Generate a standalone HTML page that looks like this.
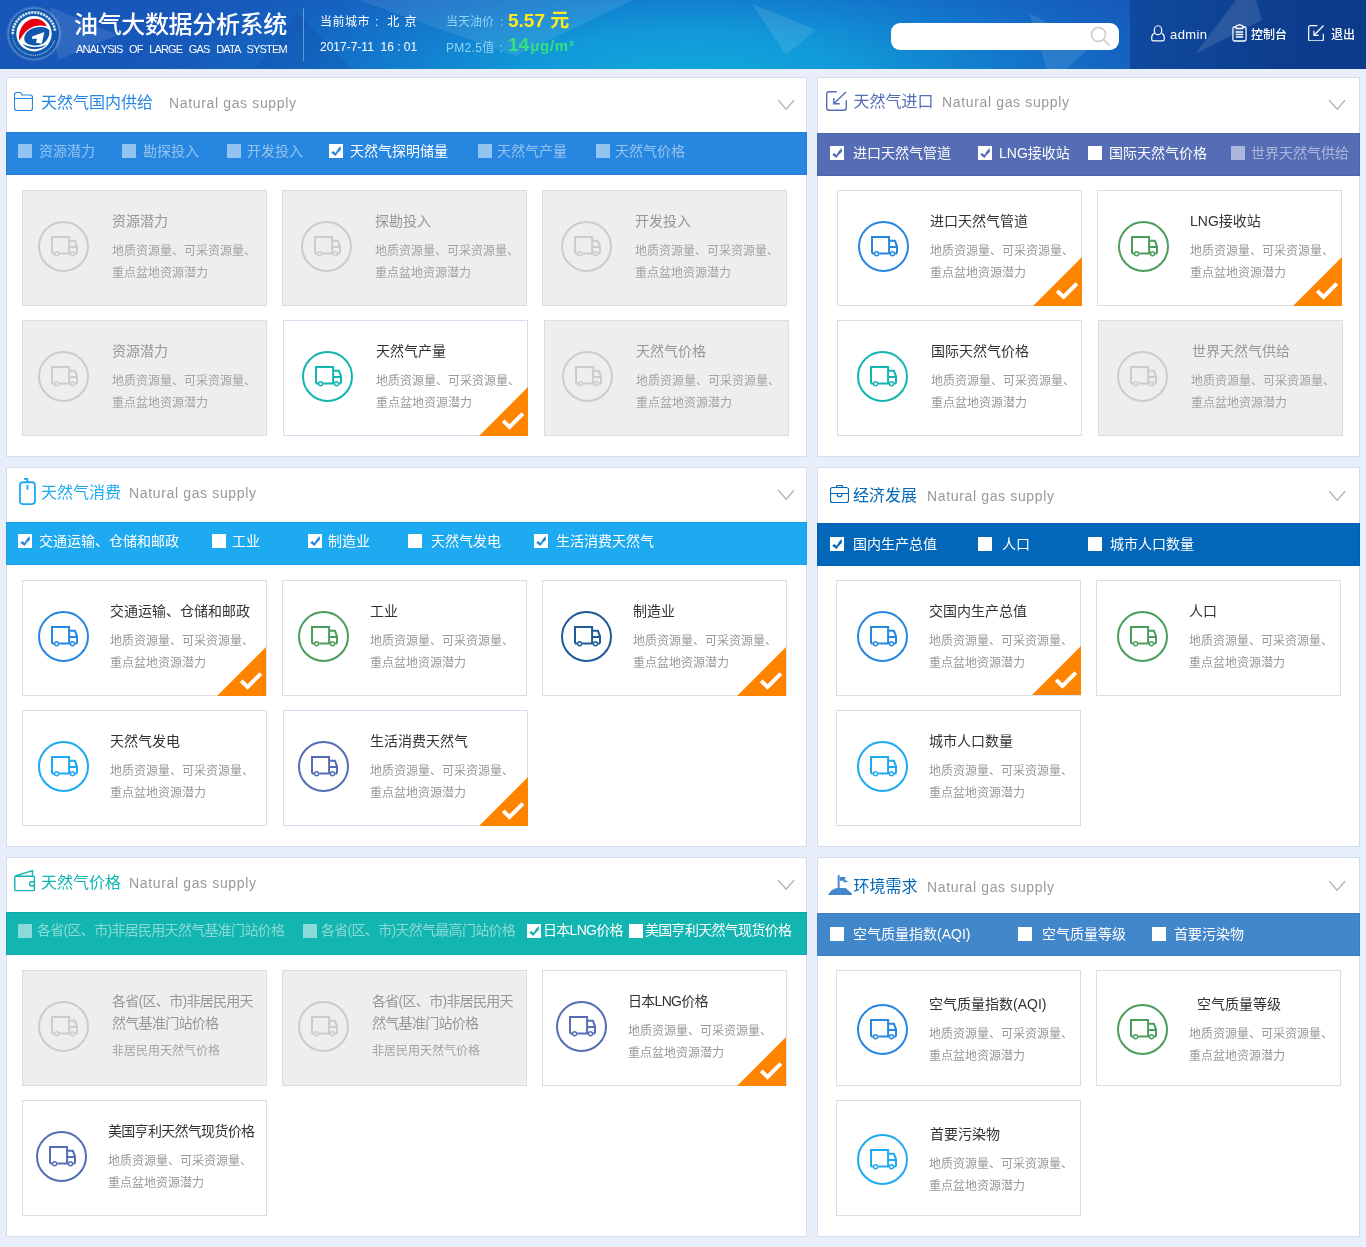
<!DOCTYPE html>
<html lang="zh-CN"><head><meta charset="utf-8"><title>油气大数据分析系统</title><style>
*{margin:0;padding:0;box-sizing:content-box}
html,body{width:1366px;height:1247px;overflow:hidden}
body{position:relative;background:#e8effa;font-family:"Liberation Sans","Noto Sans CJK SC",sans-serif;font-size:12px;color:#333}
body div,body span,body i,body svg{position:absolute}
body span.in{position:static}
.hd{left:0;top:0;width:1366px;height:69px;overflow:hidden;background:radial-gradient(ellipse 560px 150px at 690px 75px,#12a8de 0%,#1198d8 30%,#1280cf 50%,#1468c4 72%,#165cbc 88%,#1757b9 100%)}
.hd .dk{left:1130px;top:0;width:236px;height:69px;background:linear-gradient(90deg,#0f4a9e,#0d3e8e 60%,#0c3a8a)}
.hd svg.deco{left:0;top:0}
.logo{left:0;top:0}
.h1{left:74px;top:9px;font-size:24px;line-height:32px;color:#fff;white-space:nowrap;letter-spacing:-.35px;font-weight:500}
.h2{left:76px;top:41px;font-size:11px;line-height:16px;color:#fff;white-space:nowrap;word-spacing:4.3px;letter-spacing:-.82px}
.vl{left:303px;top:8px;width:1px;height:53px;background:rgba(255,255,255,.35)}
.t12{font-size:12px;line-height:20px;color:#fff;white-space:nowrap}
.lt{color:#8fd3f8}
.yl{color:#ffe81e;font-weight:bold;font-size:19px;line-height:24px;white-space:nowrap}
.gn{color:#35e07f;font-weight:bold;font-size:19px;line-height:24px;white-space:nowrap}
.gn small{font-size:15px;letter-spacing:.7px;margin-left:1px}
.sb{left:891px;top:23px;width:228px;height:27px;border-radius:9px;background:#fff}
.nav{font-size:12px;line-height:20px;color:#fff;white-space:nowrap;font-weight:500}
.panel{background:#fff;border:1px solid #d5dcef}
.bar{height:43px;box-shadow:inset 0 0 0 1px rgba(0,40,160,.1)}
.pt{font-size:16px;line-height:24px;white-space:nowrap}
.pe{font-size:14px;line-height:24px;color:#999;white-space:nowrap;letter-spacing:.65px}
.cb{width:14px;height:14px;background:#fff;font-style:normal}
.cb.dis{background:rgba(255,255,255,.5)}
.cb svg{left:0;top:0}
.lb{font-size:14px;line-height:30px;color:#fff;white-space:nowrap}
.lb.dis{color:rgba(255,255,255,.5)}
.card{width:243px;height:114px;border:1px solid #ddd;background:#fff}
.card.dis{background:#eee}
.ci{width:47px;height:47px;border:2px solid #ccc;border-radius:50%}
.ci svg.tk{left:11px;top:13px}
.ct{font-size:14px;line-height:22px;color:#333;white-space:nowrap}
.cd{font-size:12px;line-height:22px;color:#999;white-space:nowrap}
.dis .ct{color:#979797}
.dis .cd{color:#a3a3a3}
.tri{right:-1px;bottom:-1px}
.tri.tl{right:0}
.tri.tu{bottom:0}
.bl{background:#dbe4f5}
.bl.v{right:-1px;bottom:-1px;width:1px;height:49px}
.bl.h{right:-1px;bottom:-1px;height:1px;width:49px}
.lb.tight,.tight .ct{letter-spacing:-.7px}
</style></head><body>
<div class="hd">
<svg class="deco" width="1366" height="69" viewBox="0 0 1366 69">
<polygon points="358,0 633,0 516,56" fill="#ffffff" opacity=".09"/>
<polygon points="255,69 297,12 352,69" fill="#0a3a90" opacity=".16"/>
<polygon points="752,4 816,30 786,55" fill="#ffffff" opacity=".1"/>
<polygon points="50,7 118,35 58,60" fill="#ffffff" opacity=".1"/>
</svg>
<div class="dk"></div>
<svg class="deco" width="1366" height="69" viewBox="0 0 1366 69">
<polygon points="1236,0 1256,0 1262,20 1195,54" fill="#ffffff" opacity=".12"/>
<polygon points="1029,13 1091,47 1066,69 1047,69" fill="#ffffff" opacity=".1"/>
</svg>
<svg class="logo" width="70" height="69" viewBox="0 0 70 69">
<defs><radialGradient id="lg" cx="34" cy="33.700" r="28" gradientUnits="userSpaceOnUse"><stop offset="0.860" stop-color="#ffffff" stop-opacity=".4"/><stop offset="1" stop-color="#ffffff" stop-opacity="0"/></radialGradient></defs>
<circle cx="34" cy="33.700" r="28" fill="url(#lg)"/>
<circle cx="34" cy="33.700" r="25" fill="#0f57ae"/>
<circle cx="34" cy="33.700" r="21.300" fill="none" stroke="#ffffff" stroke-opacity=".82" stroke-width="2.700" stroke-dasharray="2.300 0.800" stroke-dashoffset="2" pathLength="134" transform="rotate(176 34 33.700)" style="stroke-dasharray:2.300 0.800 2.300 0.800 2.300 0.800 2.300 0.800 2.300 0.800 2.300 0.800 2.300 0.800 2.300 0.800 2.300 0.800 2.300 0.800 2.300 0.800 2.300 0.800 2.300 0.800 2.300 0.800 2.300 0.800 2.300 0.800 2.300 0.800 2.300 0.800 2.300 0.800 2.300 0.800 2.300 0.800 2.300 200"/>
<circle cx="34" cy="33.700" r="21.600" fill="none" stroke="#ffffff" stroke-opacity=".5" stroke-width="1.300" stroke-dasharray="1.200 0.700" pathLength="134" transform="rotate(18 34 33.700)" style="stroke-dasharray:1.200 0.700 1.200 0.700 1.200 0.700 1.200 0.700 1.200 0.700 1.200 0.700 1.200 0.700 1.200 0.700 1.200 0.700 1.200 0.700 1.200 0.700 1.200 0.700 1.200 0.700 1.200 0.700 1.200 0.700 1.200 0.700 1.200 0.700 1.200 0.700 1.200 0.700 1.200 0.700 1.200 0.700 1.200 0.700 1.200 0.700 1.200 0.700 1.200 0.700 1.200 0.700 1.200 0.700 1.200 0.700 1.200 0.700 1.200 200"/>
<circle cx="34" cy="33.700" r="17.700" fill="#ffffff"/>
<path d="M19.500 40.600C17.400 31 24 19 35 18.800C40 18.800 44.600 21.500 46.900 26.200C40 24.600 33 25.600 27.500 30C23.600 33.400 21.500 37 19.500 40.600Z" fill="#e60012"/>
<path d="M24.200 38.500C24.500 32 31 27.200 40 27C45 27 49 28.500 49.400 31C50 36 46 45.500 36 45.500C29 45.500 24 43 24.200 38.500Z" fill="#0f57ae"/>
<path d="M32 36.500L44.300 32L41.800 43.800L35.900 42.700L37 38.700H32Z" fill="#ffffff"/>
<path d="M22.300 43.500C27 47.600 40 48.300 46.500 44.500C41 50.800 27 51 22.300 43.500Z" fill="#0f57ae"/>
</svg>
<div class="h1">油气大数据分析系统</div>
<div class="h2">ANALYSIS OF LARGE GAS DATA SYSTEM</div>
<div class="vl"></div>
<div class="t12" style="left:320px;top:12px;letter-spacing:.5px">当前城市<span class="in" style="margin-left:5px;margin-right:8.500px">:</span>北<span class="in" style="margin-left:4.500px">京</span></div>
<div class="t12" style="left:320px;top:37px">2017-7-11&nbsp; 16 : 01</div>
<div class="t12 lt" style="left:446px;top:12px">当天油价<span class="in" style="margin-left:6px">:</span></div>
<div class="yl" style="left:508px;top:8.500px">5.57 元</div>
<div class="t12 lt" style="left:446px;top:38px;letter-spacing:.3px">PM2.5值<span class="in" style="margin-left:5px">:</span></div>
<div class="gn" style="left:508px;top:33px">14<small>μg/m³</small></div>
<div class="sb"></div>
<svg style="left:1088.500px;top:24.500px" width="24" height="24" viewBox="0 0 24 24" fill="none" stroke="#c8c8c8" stroke-width="1.500"><circle cx="9.500" cy="9.500" r="7"/><path d="M14.500 14.500l6 6"/></svg>
<svg style="left:1150.500px;top:25px" width="14" height="17" viewBox="0 0 15 18" fill="none" stroke="#fff" stroke-width="1.300"><ellipse cx="7.500" cy="5.500" rx="4" ry="4.800"/><path d="M3.800 8.500q-3 1.500-3 4.500v2.500q0 1.500 1.500 1.500h10.400q1.500 0 1.500-1.500V13q0-3-3-4.500"/></svg>
<div class="nav" style="left:1170px;top:24.500px;font-size:13px;letter-spacing:.4px">admin</div>
<svg style="left:1231.500px;top:24px" width="15" height="18" viewBox="0 0 16 18" preserveAspectRatio="none" fill="none" stroke="#fff" stroke-width="1.300"><path d="M4.500 3H2.500q-1.500 0-1.500 1.500v11q0 1.500 1.500 1.500h11q1.500 0 1.500-1.500v-11q0-1.500-1.500-1.500h-2M4.500 4.500V2l3.500-1.300L11.500 2v2.500zM4 8h8M4 10.500h8M4 13h8"/></svg>
<div class="nav" style="left:1251px;top:24.500px">控制台</div>
<svg style="left:1308px;top:24.500px" width="16" height="16.500" viewBox="0 0 17 17" preserveAspectRatio="none" fill="none" stroke="#fff" stroke-width="1.300"><path d="M10 0.700H2.700q-2 0-2 2v11.600q0 2 2 2h11.600q2 0 2-2V9M16.500 0.500L6.500 10.500M6.300 6v4.700h5"/></svg>
<div class="nav" style="left:1331px;top:24.500px">退出</div>
</div>
<div class="panel" style="left:6px;top:77px;width:799px;height:378px"></div><div class="ico" style="left:14px;top:92px"><svg width="19" height="19" viewBox="0 0 19 19" fill="none" stroke="#2787e0" stroke-width="1.150"><path d="M0.500 3Q0.500 0.500 3 0.500H6Q7 0.500 7.300 1.500L7.800 3H16Q18.500 3 18.500 5.500V16Q18.500 18.500 16 18.500H3Q0.500 18.500 0.500 16ZM0.500 6.500H18.500"/></svg></div><div class="pt" style="left:41px;top:90.5px;color:#2787e0">天然气国内供给</div><div class="pe" style="left:169px;top:90.5px">Natural gas supply</div><svg class="chev" style="left:776.7px;top:98.9px" width="19" height="12" viewBox="0 0 19 12"><path d="M1.500 1.500l7.650 8.700L16.800 1.500" fill="none" stroke="#b4b4b4" stroke-width="1.300" stroke-linecap="round"/></svg><div class="bar" style="left:6px;top:132px;width:801px;background:#2787e0"></div>
<i class="cb dis" style="left:18px;top:144px"></i><span class="lb dis" style="left:39px;top:136px">资源潜力</span>
<i class="cb dis" style="left:122px;top:144px"></i><span class="lb dis" style="left:143px;top:136px">勘探投入</span>
<i class="cb dis" style="left:227px;top:144px"></i><span class="lb dis" style="left:247px;top:136px">开发投入</span>
<i class="cb on" style="left:329px;top:144px"><svg width="14" height="14" viewBox="0 0 14 14"><path d="M2.200 8.700L4.300 7L6.500 8.900Q8.500 5 11.500 2L12 5.800Q9 8.200 6.500 12Z" fill="#2787e0"/></svg></i><span class="lb" style="left:350px;top:136px">天然气探明储量</span>
<i class="cb dis" style="left:478px;top:144px"></i><span class="lb dis" style="left:497px;top:136px">天然气产量</span>
<i class="cb dis" style="left:596px;top:144px"></i><span class="lb dis" style="left:615px;top:136px">天然气价格</span>
<div class="card dis" style="left:22px;top:190px;"><div class="ci" style="left:15px;top:30px;border-color:#cccccc"><svg class="tk" width="27" height="21" viewBox="0 0 27 21" fill="none" stroke="#cccccc" stroke-width="2"><path d="M1 17.600V1h17.100v16.600M18.100 4.800h5.800l2.100 5.500v7.300M18.100 11.100h7.900M1 17.600h2M8.200 17.600h10.700M24.100 17.600h1.900"/><circle cx="5.600" cy="17.800" r="2" fill="#eeeeee" stroke-width="1.400"/><circle cx="21.500" cy="17.800" r="2" fill="#eeeeee" stroke-width="1.400"/></svg></div><div class="ct" style="left:89px;top:19px">资源潜力</div><div class="cd" style="left:89px;top:49px">地质资源量、可采资源量、<br>重点盆地资源潜力</div></div>
<div class="card dis" style="left:282px;top:190px;"><div class="ci" style="left:18px;top:30px;border-color:#cccccc"><svg class="tk" width="27" height="21" viewBox="0 0 27 21" fill="none" stroke="#cccccc" stroke-width="2"><path d="M1 17.600V1h17.100v16.600M18.100 4.800h5.800l2.100 5.500v7.300M18.100 11.100h7.900M1 17.600h2M8.200 17.600h10.700M24.100 17.600h1.900"/><circle cx="5.600" cy="17.800" r="2" fill="#eeeeee" stroke-width="1.400"/><circle cx="21.500" cy="17.800" r="2" fill="#eeeeee" stroke-width="1.400"/></svg></div><div class="ct" style="left:92px;top:19px">探勘投入</div><div class="cd" style="left:92px;top:49px">地质资源量、可采资源量、<br>重点盆地资源潜力</div></div>
<div class="card dis" style="left:542px;top:190px;"><div class="ci" style="left:18px;top:30px;border-color:#cccccc"><svg class="tk" width="27" height="21" viewBox="0 0 27 21" fill="none" stroke="#cccccc" stroke-width="2"><path d="M1 17.600V1h17.100v16.600M18.100 4.800h5.800l2.100 5.500v7.300M18.100 11.100h7.900M1 17.600h2M8.200 17.600h10.700M24.100 17.600h1.900"/><circle cx="5.600" cy="17.800" r="2" fill="#eeeeee" stroke-width="1.400"/><circle cx="21.500" cy="17.800" r="2" fill="#eeeeee" stroke-width="1.400"/></svg></div><div class="ct" style="left:92px;top:19px">开发投入</div><div class="cd" style="left:92px;top:49px">地质资源量、可采资源量、<br>重点盆地资源潜力</div></div>
<div class="card dis" style="left:22px;top:320px;"><div class="ci" style="left:15px;top:30px;border-color:#cccccc"><svg class="tk" width="27" height="21" viewBox="0 0 27 21" fill="none" stroke="#cccccc" stroke-width="2"><path d="M1 17.600V1h17.100v16.600M18.100 4.800h5.800l2.100 5.500v7.300M18.100 11.100h7.900M1 17.600h2M8.200 17.600h10.700M24.100 17.600h1.900"/><circle cx="5.600" cy="17.800" r="2" fill="#eeeeee" stroke-width="1.400"/><circle cx="21.500" cy="17.800" r="2" fill="#eeeeee" stroke-width="1.400"/></svg></div><div class="ct" style="left:89px;top:19px">资源潜力</div><div class="cd" style="left:89px;top:49px">地质资源量、可采资源量、<br>重点盆地资源潜力</div></div>
<div class="card" style="left:283px;top:320px;border-color:#d5dcef;"><div class="ci" style="left:18px;top:30px;border-color:#13b5b1"><svg class="tk" width="27" height="21" viewBox="0 0 27 21" fill="none" stroke="#13b5b1" stroke-width="2"><path d="M1 17.600V1h17.100v16.600M18.100 4.800h5.800l2.100 5.500v7.300M18.100 11.100h7.900M1 17.600h2M8.200 17.600h10.700M24.100 17.600h1.900"/><circle cx="5.600" cy="17.800" r="2" fill="#ffffff" stroke-width="1.400"/><circle cx="21.500" cy="17.800" r="2" fill="#ffffff" stroke-width="1.400"/></svg></div><div class="ct" style="left:92px;top:19px">天然气产量</div><div class="cd" style="left:92px;top:49px">地质资源量、可采资源量、<br>重点盆地资源潜力</div><svg class="tri" width="49" height="49" viewBox="0 0 49 49"><path d="M49 0V49H0Z" fill="#ff8400"/><path d="M24.200 33.800l6.300 6.100L43.900 26.600" fill="none" stroke="#fff" stroke-width="3.900"/></svg></div>
<div class="card dis" style="left:544px;top:320px;"><div class="ci" style="left:17px;top:30px;border-color:#cccccc"><svg class="tk" width="27" height="21" viewBox="0 0 27 21" fill="none" stroke="#cccccc" stroke-width="2"><path d="M1 17.600V1h17.100v16.600M18.100 4.800h5.800l2.100 5.500v7.300M18.100 11.100h7.900M1 17.600h2M8.200 17.600h10.700M24.100 17.600h1.900"/><circle cx="5.600" cy="17.800" r="2" fill="#eeeeee" stroke-width="1.400"/><circle cx="21.500" cy="17.800" r="2" fill="#eeeeee" stroke-width="1.400"/></svg></div><div class="ct" style="left:91px;top:19px">天然气价格</div><div class="cd" style="left:91px;top:49px">地质资源量、可采资源量、<br>重点盆地资源潜力</div></div>
<div class="panel" style="left:6px;top:467px;width:799px;height:378px"></div><div class="ico" style="left:19px;top:478.4px"><svg width="17" height="28" viewBox="0 0 17 28" fill="none" stroke="#1eaaf1" stroke-width="1.800"><path d="M0.950 23.100V7.200q0-2.950 2.950-2.950h9.100q2.950 0 2.950 2.950v15.900q0 2.950-2.950 2.950H3.900q-2.950 0-2.950-2.950zM8.400 4.250V0.850H5M8.400 6.800v5"/></svg></div><div class="pt" style="left:41px;top:480.5px;color:#1eaaf1">天然气消费</div><div class="pe" style="left:129px;top:480.5px">Natural gas supply</div><svg class="chev" style="left:776.7px;top:488.9px" width="19" height="12" viewBox="0 0 19 12"><path d="M1.500 1.500l7.650 8.700L16.800 1.500" fill="none" stroke="#b4b4b4" stroke-width="1.300" stroke-linecap="round"/></svg><div class="bar" style="left:6px;top:522px;width:801px;background:#1eaaf1"></div>
<i class="cb on" style="left:18px;top:534px"><svg width="14" height="14" viewBox="0 0 14 14"><path d="M2.200 8.700L4.300 7L6.500 8.900Q8.500 5 11.500 2L12 5.800Q9 8.200 6.500 12Z" fill="#2787e0"/></svg></i><span class="lb" style="left:39px;top:526px">交通运输、仓储和邮政</span>
<i class="cb" style="left:212px;top:534px"></i><span class="lb" style="left:232px;top:526px">工业</span>
<i class="cb on" style="left:308px;top:534px"><svg width="14" height="14" viewBox="0 0 14 14"><path d="M2.200 8.700L4.300 7L6.500 8.900Q8.500 5 11.500 2L12 5.800Q9 8.200 6.500 12Z" fill="#2787e0"/></svg></i><span class="lb" style="left:328px;top:526px">制造业</span>
<i class="cb" style="left:408px;top:534px"></i><span class="lb" style="left:431px;top:526px">天然气发电</span>
<i class="cb on" style="left:534px;top:534px"><svg width="14" height="14" viewBox="0 0 14 14"><path d="M2.200 8.700L4.300 7L6.500 8.900Q8.500 5 11.500 2L12 5.800Q9 8.200 6.500 12Z" fill="#2787e0"/></svg></i><span class="lb" style="left:556px;top:526px">生活消费天然气</span>
<div class="card" style="left:22px;top:580px;"><div class="ci" style="left:15px;top:30px;border-color:#2787e0"><svg class="tk" width="27" height="21" viewBox="0 0 27 21" fill="none" stroke="#2787e0" stroke-width="2"><path d="M1 17.600V1h17.100v16.600M18.100 4.800h5.800l2.100 5.500v7.300M18.100 11.100h7.900M1 17.600h2M8.200 17.600h10.700M24.100 17.600h1.900"/><circle cx="5.600" cy="17.800" r="2" fill="#ffffff" stroke-width="1.400"/><circle cx="21.500" cy="17.800" r="2" fill="#ffffff" stroke-width="1.400"/></svg></div><div class="ct" style="left:87px;top:19px">交通运输、仓储和邮政</div><div class="cd" style="left:87px;top:49px">地质资源量、可采资源量、<br>重点盆地资源潜力</div><i class="bl v"></i><svg class="tri tl" width="49" height="49" viewBox="0 0 49 49"><path d="M49 0V49H0Z" fill="#ff8400"/><path d="M24.200 33.800l6.300 6.100L43.900 26.600" fill="none" stroke="#fff" stroke-width="3.900"/></svg></div>
<div class="card" style="left:282px;top:580px;"><div class="ci" style="left:15px;top:30px;border-color:#4a9d5b"><svg class="tk" width="27" height="21" viewBox="0 0 27 21" fill="none" stroke="#4a9d5b" stroke-width="2"><path d="M1 17.600V1h17.100v16.600M18.100 4.800h5.800l2.100 5.500v7.300M18.100 11.100h7.900M1 17.600h2M8.200 17.600h10.700M24.100 17.600h1.900"/><circle cx="5.600" cy="17.800" r="2" fill="#ffffff" stroke-width="1.400"/><circle cx="21.500" cy="17.800" r="2" fill="#ffffff" stroke-width="1.400"/></svg></div><div class="ct" style="left:87px;top:19px">工业</div><div class="cd" style="left:87px;top:49px">地质资源量、可采资源量、<br>重点盆地资源潜力</div></div>
<div class="card" style="left:542px;top:580px;"><div class="ci" style="left:18px;top:30px;border-color:#1d5a96"><svg class="tk" width="27" height="21" viewBox="0 0 27 21" fill="none" stroke="#1d5a96" stroke-width="2"><path d="M1 17.600V1h17.100v16.600M18.100 4.800h5.800l2.100 5.500v7.300M18.100 11.100h7.900M1 17.600h2M8.200 17.600h10.700M24.100 17.600h1.900"/><circle cx="5.600" cy="17.800" r="2" fill="#ffffff" stroke-width="1.400"/><circle cx="21.500" cy="17.800" r="2" fill="#ffffff" stroke-width="1.400"/></svg></div><div class="ct" style="left:90px;top:19px">制造业</div><div class="cd" style="left:90px;top:49px">地质资源量、可采资源量、<br>重点盆地资源潜力</div><i class="bl v"></i><svg class="tri tl" width="49" height="49" viewBox="0 0 49 49"><path d="M49 0V49H0Z" fill="#ff8400"/><path d="M24.200 33.800l6.300 6.100L43.900 26.600" fill="none" stroke="#fff" stroke-width="3.900"/></svg></div>
<div class="card" style="left:22px;top:710px;"><div class="ci" style="left:15px;top:30px;border-color:#1eaaf1"><svg class="tk" width="27" height="21" viewBox="0 0 27 21" fill="none" stroke="#1eaaf1" stroke-width="2"><path d="M1 17.600V1h17.100v16.600M18.100 4.800h5.800l2.100 5.500v7.300M18.100 11.100h7.900M1 17.600h2M8.200 17.600h10.700M24.100 17.600h1.900"/><circle cx="5.600" cy="17.800" r="2" fill="#ffffff" stroke-width="1.400"/><circle cx="21.500" cy="17.800" r="2" fill="#ffffff" stroke-width="1.400"/></svg></div><div class="ct" style="left:87px;top:19px">天然气发电</div><div class="cd" style="left:87px;top:49px">地质资源量、可采资源量、<br>重点盆地资源潜力</div></div>
<div class="card" style="left:283px;top:710px;border-color:#d5dcef;"><div class="ci" style="left:14px;top:30px;border-color:#556db4"><svg class="tk" width="27" height="21" viewBox="0 0 27 21" fill="none" stroke="#556db4" stroke-width="2"><path d="M1 17.600V1h17.100v16.600M18.100 4.800h5.800l2.100 5.500v7.300M18.100 11.100h7.900M1 17.600h2M8.200 17.600h10.700M24.100 17.600h1.900"/><circle cx="5.600" cy="17.800" r="2" fill="#ffffff" stroke-width="1.400"/><circle cx="21.500" cy="17.800" r="2" fill="#ffffff" stroke-width="1.400"/></svg></div><div class="ct" style="left:86px;top:19px">生活消费天然气</div><div class="cd" style="left:86px;top:49px">地质资源量、可采资源量、<br>重点盆地资源潜力</div><svg class="tri" width="49" height="49" viewBox="0 0 49 49"><path d="M49 0V49H0Z" fill="#ff8400"/><path d="M24.200 33.800l6.300 6.100L43.900 26.600" fill="none" stroke="#fff" stroke-width="3.900"/></svg></div>
<div class="panel" style="left:6px;top:857px;width:799px;height:378px"></div><div class="ico" style="left:14px;top:870px"><svg width="22" height="22" viewBox="0 0 22 22" fill="none" stroke="#13b5b1" stroke-width="1.400"><path d="M0.800 19.800V7q0-0.800 0.800-0.800h18q0.800 0 0.800 0.800v12.800q0 0.800-0.800 0.800h-18q-0.800 0-0.800-0.800zM1.200 6L18.500 0.700V6.200M20.400 11.800h-3.700q-1 0-1 1v2q0 1 1 1h3.700"/></svg></div><div class="pt" style="left:41px;top:870.5px;color:#13b5b1">天然气价格</div><div class="pe" style="left:129px;top:870.5px">Natural gas supply</div><svg class="chev" style="left:776.7px;top:878.9px" width="19" height="12" viewBox="0 0 19 12"><path d="M1.500 1.500l7.650 8.700L16.800 1.500" fill="none" stroke="#b4b4b4" stroke-width="1.300" stroke-linecap="round"/></svg><div class="bar" style="left:6px;top:912px;width:801px;background:#13b5b1"></div>
<i class="cb dis" style="left:18px;top:924px"></i><span class="lb dis tight" style="left:37px;top:915px">各省(区、市)非居民用天然气基准门站价格</span>
<i class="cb dis" style="left:303px;top:924px"></i><span class="lb dis tight" style="left:321px;top:915px">各省(区、市)天然气最高门站价格</span>
<i class="cb on" style="left:527px;top:924px"><svg width="14" height="14" viewBox="0 0 14 14"><path d="M2.200 8.700L4.300 7L6.500 8.900Q8.500 5 11.500 2L12 5.800Q9 8.200 6.500 12Z" fill="#13b5b1"/></svg></i><span class="lb tight" style="left:543px;top:915px">日本LNG价格</span>
<i class="cb" style="left:629px;top:924px"></i><span class="lb tight" style="left:645px;top:915px">美国亨利天然气现货价格</span>
<div class="card tight dis" style="left:22px;top:970px;"><div class="ci" style="left:15px;top:30px;border-color:#cccccc"><svg class="tk" width="27" height="21" viewBox="0 0 27 21" fill="none" stroke="#cccccc" stroke-width="2"><path d="M1 17.600V1h17.100v16.600M18.100 4.800h5.800l2.100 5.500v7.300M18.100 11.100h7.900M1 17.600h2M8.200 17.600h10.700M24.100 17.600h1.900"/><circle cx="5.600" cy="17.800" r="2" fill="#eeeeee" stroke-width="1.400"/><circle cx="21.500" cy="17.800" r="2" fill="#eeeeee" stroke-width="1.400"/></svg></div><div class="ct two" style="left:89px;top:19px">各省(区、市)非居民用天<br>然气基准门站价格</div><div class="cd" style="left:89px;top:69px">非居民用天然气价格</div></div>
<div class="card tight dis" style="left:282px;top:970px;"><div class="ci" style="left:15px;top:30px;border-color:#cccccc"><svg class="tk" width="27" height="21" viewBox="0 0 27 21" fill="none" stroke="#cccccc" stroke-width="2"><path d="M1 17.600V1h17.100v16.600M18.100 4.800h5.800l2.100 5.500v7.300M18.100 11.100h7.900M1 17.600h2M8.200 17.600h10.700M24.100 17.600h1.900"/><circle cx="5.600" cy="17.800" r="2" fill="#eeeeee" stroke-width="1.400"/><circle cx="21.500" cy="17.800" r="2" fill="#eeeeee" stroke-width="1.400"/></svg></div><div class="ct two" style="left:89px;top:19px">各省(区、市)非居民用天<br>然气基准门站价格</div><div class="cd" style="left:89px;top:69px">非居民用天然气价格</div></div>
<div class="card tight" style="left:542px;top:970px;"><div class="ci" style="left:13px;top:30px;border-color:#556db4"><svg class="tk" width="27" height="21" viewBox="0 0 27 21" fill="none" stroke="#556db4" stroke-width="2"><path d="M1 17.600V1h17.100v16.600M18.100 4.800h5.800l2.100 5.500v7.300M18.100 11.100h7.900M1 17.600h2M8.200 17.600h10.700M24.100 17.600h1.900"/><circle cx="5.600" cy="17.800" r="2" fill="#ffffff" stroke-width="1.400"/><circle cx="21.500" cy="17.800" r="2" fill="#ffffff" stroke-width="1.400"/></svg></div><div class="ct" style="left:85px;top:19px">日本LNG价格</div><div class="cd" style="left:85px;top:49px">地质资源量、可采资源量、<br>重点盆地资源潜力</div><i class="bl v"></i><svg class="tri tl" width="49" height="49" viewBox="0 0 49 49"><path d="M49 0V49H0Z" fill="#ff8400"/><path d="M24.200 33.800l6.300 6.100L43.900 26.600" fill="none" stroke="#fff" stroke-width="3.900"/></svg></div>
<div class="card tight" style="left:22px;top:1100px;"><div class="ci" style="left:13px;top:30px;border-color:#556db4"><svg class="tk" width="27" height="21" viewBox="0 0 27 21" fill="none" stroke="#556db4" stroke-width="2"><path d="M1 17.600V1h17.100v16.600M18.100 4.800h5.800l2.100 5.500v7.300M18.100 11.100h7.900M1 17.600h2M8.200 17.600h10.700M24.100 17.600h1.900"/><circle cx="5.600" cy="17.800" r="2" fill="#ffffff" stroke-width="1.400"/><circle cx="21.500" cy="17.800" r="2" fill="#ffffff" stroke-width="1.400"/></svg></div><div class="ct" style="left:85px;top:19px">美国亨利天然气现货价格</div><div class="cd" style="left:85px;top:49px">地质资源量、可采资源量、<br>重点盆地资源潜力</div></div>
<div class="panel" style="left:817px;top:77px;width:541px;height:378px"></div><div class="ico" style="left:826px;top:91px"><svg width="22" height="20" viewBox="0 0 22 20" fill="none" stroke="#556db4" stroke-width="1.400"><path d="M10.800 0.700H3.200q-2.500 0-2.500 2.500v13.600q0 2.500 2.500 2.500h14.600q2.500 0 2.500-2.500V9.300M20 1L8 12.500M7.800 7v5.800h6"/></svg></div><div class="pt" style="left:853.5px;top:90px;color:#556db4">天然气进口</div><div class="pe" style="left:942px;top:90px">Natural gas supply</div><svg class="chev" style="left:1327.7px;top:98.9px" width="19" height="12" viewBox="0 0 19 12"><path d="M1.500 1.500l7.650 8.700L16.800 1.500" fill="none" stroke="#b4b4b4" stroke-width="1.300" stroke-linecap="round"/></svg><div class="bar" style="left:817px;top:133px;width:543px;background:#556db4"></div>
<i class="cb on" style="left:830px;top:146px"><svg width="14" height="14" viewBox="0 0 14 14"><path d="M2.200 8.700L4.300 7L6.500 8.900Q8.500 5 11.500 2L12 5.800Q9 8.200 6.500 12Z" fill="#556db4"/></svg></i><span class="lb" style="left:853px;top:138px">进口天然气管道</span>
<i class="cb on" style="left:978px;top:146px"><svg width="14" height="14" viewBox="0 0 14 14"><path d="M2.200 8.700L4.300 7L6.500 8.900Q8.500 5 11.500 2L12 5.800Q9 8.200 6.500 12Z" fill="#556db4"/></svg></i><span class="lb" style="left:999px;top:138px">LNG接收站</span>
<i class="cb" style="left:1088px;top:146px"></i><span class="lb" style="left:1109px;top:138px">国际天然气价格</span>
<i class="cb dis" style="left:1231px;top:146px"></i><span class="lb dis" style="left:1251px;top:138px">世界天然气供给</span>
<div class="card" style="left:837px;top:190px;"><div class="ci" style="left:20px;top:30px;border-color:#2787e0"><svg class="tk" width="27" height="21" viewBox="0 0 27 21" fill="none" stroke="#2787e0" stroke-width="2"><path d="M1 17.600V1h17.100v16.600M18.100 4.800h5.800l2.100 5.500v7.300M18.100 11.100h7.900M1 17.600h2M8.200 17.600h10.700M24.100 17.600h1.900"/><circle cx="5.600" cy="17.800" r="2" fill="#ffffff" stroke-width="1.400"/><circle cx="21.500" cy="17.800" r="2" fill="#ffffff" stroke-width="1.400"/></svg></div><div class="ct" style="left:92px;top:19px">进口天然气管道</div><div class="cd" style="left:92px;top:49px">地质资源量、可采资源量、<br>重点盆地资源潜力</div><svg class="tri" width="49" height="49" viewBox="0 0 49 49"><path d="M49 0V49H0Z" fill="#ff8400"/><path d="M24.200 33.800l6.300 6.100L43.900 26.600" fill="none" stroke="#fff" stroke-width="3.900"/></svg></div>
<div class="card" style="left:1097px;top:190px;"><div class="ci" style="left:20px;top:30px;border-color:#4a9d5b"><svg class="tk" width="27" height="21" viewBox="0 0 27 21" fill="none" stroke="#4a9d5b" stroke-width="2"><path d="M1 17.600V1h17.100v16.600M18.100 4.800h5.800l2.100 5.500v7.300M18.100 11.100h7.900M1 17.600h2M8.200 17.600h10.700M24.100 17.600h1.900"/><circle cx="5.600" cy="17.800" r="2" fill="#ffffff" stroke-width="1.400"/><circle cx="21.500" cy="17.800" r="2" fill="#ffffff" stroke-width="1.400"/></svg></div><div class="ct" style="left:92px;top:19px">LNG接收站</div><div class="cd" style="left:92px;top:49px">地质资源量、可采资源量、<br>重点盆地资源潜力</div><svg class="tri" width="49" height="49" viewBox="0 0 49 49"><path d="M49 0V49H0Z" fill="#ff8400"/><path d="M24.200 33.800l6.300 6.100L43.900 26.600" fill="none" stroke="#fff" stroke-width="3.900"/></svg></div>
<div class="card" style="left:837px;top:320px;"><div class="ci" style="left:19px;top:30px;border-color:#13b5b1"><svg class="tk" width="27" height="21" viewBox="0 0 27 21" fill="none" stroke="#13b5b1" stroke-width="2"><path d="M1 17.600V1h17.100v16.600M18.100 4.800h5.800l2.100 5.500v7.300M18.100 11.100h7.900M1 17.600h2M8.200 17.600h10.700M24.100 17.600h1.900"/><circle cx="5.600" cy="17.800" r="2" fill="#ffffff" stroke-width="1.400"/><circle cx="21.500" cy="17.800" r="2" fill="#ffffff" stroke-width="1.400"/></svg></div><div class="ct" style="left:93px;top:19px">国际天然气价格</div><div class="cd" style="left:93px;top:49px">地质资源量、可采资源量、<br>重点盆地资源潜力</div></div>
<div class="card dis" style="left:1098px;top:320px;"><div class="ci" style="left:18px;top:30px;border-color:#cccccc"><svg class="tk" width="27" height="21" viewBox="0 0 27 21" fill="none" stroke="#cccccc" stroke-width="2"><path d="M1 17.600V1h17.100v16.600M18.100 4.800h5.800l2.100 5.500v7.300M18.100 11.100h7.900M1 17.600h2M8.200 17.600h10.700M24.100 17.600h1.900"/><circle cx="5.600" cy="17.800" r="2" fill="#eeeeee" stroke-width="1.400"/><circle cx="21.500" cy="17.800" r="2" fill="#eeeeee" stroke-width="1.400"/></svg></div><div class="ct" style="left:93px;top:19px">世界天然气供给</div><div class="cd" style="left:92px;top:49px">地质资源量、可采资源量、<br>重点盆地资源潜力</div></div>
<div class="panel" style="left:817px;top:467px;width:541px;height:378px"></div><div class="ico" style="left:830px;top:485px"><svg width="19" height="18" viewBox="0 0 19 18" fill="none" stroke="#0267b9" stroke-width="1.150"><path d="M0.500 15.500V4.500q0-2 2-2h14q2 0 2 2v11q0 2-2 2h-14q-2 0-2-2zM6.500 2.500V1.500q0-1 1-1h4q1 0 1 1v1M0.500 8.500H18.500M7.200 8.500v1q0 2.300 2.300 2.300t2.300-2.300v-1"/></svg></div><div class="pt" style="left:853px;top:484px;color:#0267b9">经济发展</div><div class="pe" style="left:927px;top:484px">Natural gas supply</div><svg class="chev" style="left:1327.7px;top:489.9px" width="19" height="12" viewBox="0 0 19 12"><path d="M1.500 1.500l7.650 8.700L16.800 1.500" fill="none" stroke="#b4b4b4" stroke-width="1.300" stroke-linecap="round"/></svg><div class="bar" style="left:817px;top:523px;width:543px;background:#0267b9"></div>
<i class="cb on" style="left:830px;top:537px"><svg width="14" height="14" viewBox="0 0 14 14"><path d="M2.200 8.700L4.300 7L6.500 8.900Q8.500 5 11.500 2L12 5.800Q9 8.200 6.500 12Z" fill="#0267b9"/></svg></i><span class="lb" style="left:853px;top:529px">国内生产总值</span>
<i class="cb" style="left:978px;top:537px"></i><span class="lb" style="left:1002px;top:529px">人口</span>
<i class="cb" style="left:1088px;top:537px"></i><span class="lb" style="left:1110px;top:529px">城市人口数量</span>
<div class="card" style="left:836px;top:580px;"><div class="ci" style="left:20px;top:30px;border-color:#2787e0"><svg class="tk" width="27" height="21" viewBox="0 0 27 21" fill="none" stroke="#2787e0" stroke-width="2"><path d="M1 17.600V1h17.100v16.600M18.100 4.800h5.800l2.100 5.500v7.300M18.100 11.100h7.900M1 17.600h2M8.200 17.600h10.700M24.100 17.600h1.900"/><circle cx="5.600" cy="17.800" r="2" fill="#ffffff" stroke-width="1.400"/><circle cx="21.500" cy="17.800" r="2" fill="#ffffff" stroke-width="1.400"/></svg></div><div class="ct" style="left:92px;top:19px">交国内生产总值</div><div class="cd" style="left:92px;top:49px">地质资源量、可采资源量、<br>重点盆地资源潜力</div><i class="bl h"></i><svg class="tri tu" width="49" height="49" viewBox="0 0 49 49"><path d="M49 0V49H0Z" fill="#ff8400"/><path d="M24.200 33.800l6.300 6.100L43.900 26.600" fill="none" stroke="#fff" stroke-width="3.900"/></svg></div>
<div class="card" style="left:1096px;top:580px;"><div class="ci" style="left:20px;top:30px;border-color:#4a9d5b"><svg class="tk" width="27" height="21" viewBox="0 0 27 21" fill="none" stroke="#4a9d5b" stroke-width="2"><path d="M1 17.600V1h17.100v16.600M18.100 4.800h5.800l2.100 5.500v7.300M18.100 11.100h7.900M1 17.600h2M8.200 17.600h10.700M24.100 17.600h1.900"/><circle cx="5.600" cy="17.800" r="2" fill="#ffffff" stroke-width="1.400"/><circle cx="21.500" cy="17.800" r="2" fill="#ffffff" stroke-width="1.400"/></svg></div><div class="ct" style="left:92px;top:19px">人口</div><div class="cd" style="left:92px;top:49px">地质资源量、可采资源量、<br>重点盆地资源潜力</div></div>
<div class="card" style="left:836px;top:710px;"><div class="ci" style="left:20px;top:30px;border-color:#1eaaf1"><svg class="tk" width="27" height="21" viewBox="0 0 27 21" fill="none" stroke="#1eaaf1" stroke-width="2"><path d="M1 17.600V1h17.100v16.600M18.100 4.800h5.800l2.100 5.500v7.300M18.100 11.100h7.900M1 17.600h2M8.200 17.600h10.700M24.100 17.600h1.900"/><circle cx="5.600" cy="17.800" r="2" fill="#ffffff" stroke-width="1.400"/><circle cx="21.500" cy="17.800" r="2" fill="#ffffff" stroke-width="1.400"/></svg></div><div class="ct" style="left:92px;top:19px">城市人口数量</div><div class="cd" style="left:92px;top:49px">地质资源量、可采资源量、<br>重点盆地资源潜力</div></div>
<div class="panel" style="left:817px;top:857px;width:541px;height:378px"></div><div class="ico" style="left:827px;top:874px"><svg width="26" height="22" viewBox="0 0 26 22"><path d="M0.900 21Q4 15 10.400 13.900H18.700L25 19.800V21Z" fill="#4387cb"/><path d="M10.700 0.900h1.900v13.500h-1.900z" fill="#4387cb"/><path d="M12.600 2.900H18.800L17.800 4.800L18.300 6Q20 7.200 21.500 7.400Q19 8.300 16.500 8.500V6.700H12.600Z" fill="#4387cb"/></svg></div><div class="pt" style="left:853.5px;top:875px;color:#0267b9">环境需求</div><div class="pe" style="left:927px;top:875px">Natural gas supply</div><svg class="chev" style="left:1327.7px;top:879.9px" width="19" height="12" viewBox="0 0 19 12"><path d="M1.500 1.500l7.650 8.700L16.800 1.500" fill="none" stroke="#b4b4b4" stroke-width="1.300" stroke-linecap="round"/></svg><div class="bar" style="left:817px;top:913px;width:543px;background:#4387cb"></div>
<i class="cb" style="left:830px;top:927px"></i><span class="lb" style="left:853px;top:919px">空气质量指数(AQI)</span>
<i class="cb" style="left:1018px;top:927px"></i><span class="lb" style="left:1042px;top:919px">空气质量等级</span>
<i class="cb" style="left:1152px;top:927px"></i><span class="lb" style="left:1174px;top:919px">首要污染物</span>
<div class="card" style="left:836px;top:970px;"><div class="ci" style="left:20px;top:33px;border-color:#2787e0"><svg class="tk" width="27" height="21" viewBox="0 0 27 21" fill="none" stroke="#2787e0" stroke-width="2"><path d="M1 17.600V1h17.100v16.600M18.100 4.800h5.800l2.100 5.500v7.300M18.100 11.100h7.900M1 17.600h2M8.200 17.600h10.700M24.100 17.600h1.900"/><circle cx="5.600" cy="17.800" r="2" fill="#ffffff" stroke-width="1.400"/><circle cx="21.500" cy="17.800" r="2" fill="#ffffff" stroke-width="1.400"/></svg></div><div class="ct" style="left:92px;top:22px">空气质量指数(AQI)</div><div class="cd" style="left:92px;top:52px">地质资源量、可采资源量、<br>重点盆地资源潜力</div></div>
<div class="card" style="left:1096px;top:970px;"><div class="ci" style="left:20px;top:33px;border-color:#4a9d5b"><svg class="tk" width="27" height="21" viewBox="0 0 27 21" fill="none" stroke="#4a9d5b" stroke-width="2"><path d="M1 17.600V1h17.100v16.600M18.100 4.800h5.800l2.100 5.500v7.300M18.100 11.100h7.900M1 17.600h2M8.200 17.600h10.700M24.100 17.600h1.900"/><circle cx="5.600" cy="17.800" r="2" fill="#ffffff" stroke-width="1.400"/><circle cx="21.500" cy="17.800" r="2" fill="#ffffff" stroke-width="1.400"/></svg></div><div class="ct" style="left:100px;top:22px">空气质量等级</div><div class="cd" style="left:92px;top:52px">地质资源量、可采资源量、<br>重点盆地资源潜力</div></div>
<div class="card" style="left:836px;top:1100px;"><div class="ci" style="left:20px;top:33px;border-color:#1eaaf1"><svg class="tk" width="27" height="21" viewBox="0 0 27 21" fill="none" stroke="#1eaaf1" stroke-width="2"><path d="M1 17.600V1h17.100v16.600M18.100 4.800h5.800l2.100 5.500v7.300M18.100 11.100h7.900M1 17.600h2M8.200 17.600h10.700M24.100 17.600h1.900"/><circle cx="5.600" cy="17.800" r="2" fill="#ffffff" stroke-width="1.400"/><circle cx="21.500" cy="17.800" r="2" fill="#ffffff" stroke-width="1.400"/></svg></div><div class="ct" style="left:93px;top:22px">首要污染物</div><div class="cd" style="left:92px;top:52px">地质资源量、可采资源量、<br>重点盆地资源潜力</div></div>
</body></html>
